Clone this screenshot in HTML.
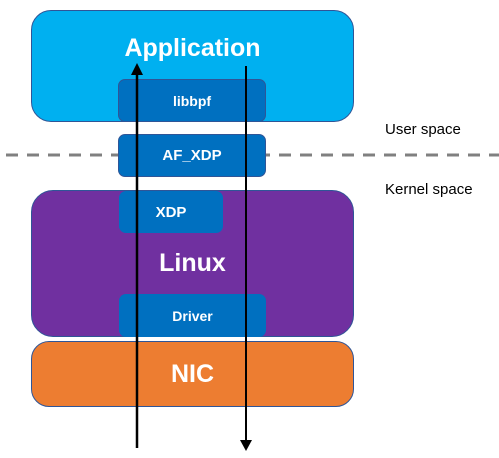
<!DOCTYPE html>
<html><head><style>
body{margin:0;width:499px;height:458px;background:#fff;position:relative;overflow:hidden;font-family:"Liberation Sans",sans-serif}
.b{position:absolute;box-sizing:border-box;border:1px solid #2f5597;color:#fff;display:flex;justify-content:center;font-weight:bold}
.t{position:absolute;font-size:15px;color:#000}
</style></head><body>
<svg style="position:absolute;left:0;top:0" width="499" height="458">
<line x1="6" y1="155" x2="499" y2="155" stroke="#808080" stroke-width="3" stroke-dasharray="12,9"/>
</svg>
<div class="b" style="left:31px;top:10px;width:323px;height:112px;border-radius:20px;background:#00b0f0;font-size:25px;padding-top:23px"><span>Application</span></div>
<div class="b" style="left:31px;top:190px;width:323px;height:147px;border-radius:22px;background:#7030a0;font-size:25px;align-items:center"><span>Linux</span></div>
<div class="b" style="left:31px;top:341px;width:323px;height:66px;border-radius:18px;background:#ed7d31;font-size:25px;align-items:center"><span>NIC</span></div>
<div class="b" style="left:118px;top:79px;width:148px;height:43px;border-radius:7px;background:#0070c0;font-size:14px;align-items:center">libbpf</div>
<div class="b" style="left:118px;top:134px;width:148px;height:43px;border-radius:7px;background:#0070c0;font-size:15px;align-items:center">AF_XDP</div>
<div class="b" style="left:119px;top:191px;width:104px;height:42px;border-radius:7px;background:#0070c0;border:none;font-size:15px;align-items:center">XDP</div>
<div class="b" style="left:119px;top:294px;width:147px;height:43px;border-radius:7px;background:#0070c0;border:none;font-size:14px;align-items:center">Driver</div>
<svg style="position:absolute;left:0;top:0" width="499" height="458">
<line x1="137" y1="448" x2="137" y2="72" stroke="#000" stroke-width="2.5"/>
<polygon points="131,75 143,75 137,63" fill="#000"/>
<line x1="246" y1="66" x2="246" y2="442" stroke="#000" stroke-width="2"/>
<polygon points="240,440 252,440 246,451" fill="#000"/>
</svg>
<div class="t" style="left:385px;top:121px">User space</div>
<div class="t" style="left:385px;top:181px">Kernel space</div>
</body></html>
